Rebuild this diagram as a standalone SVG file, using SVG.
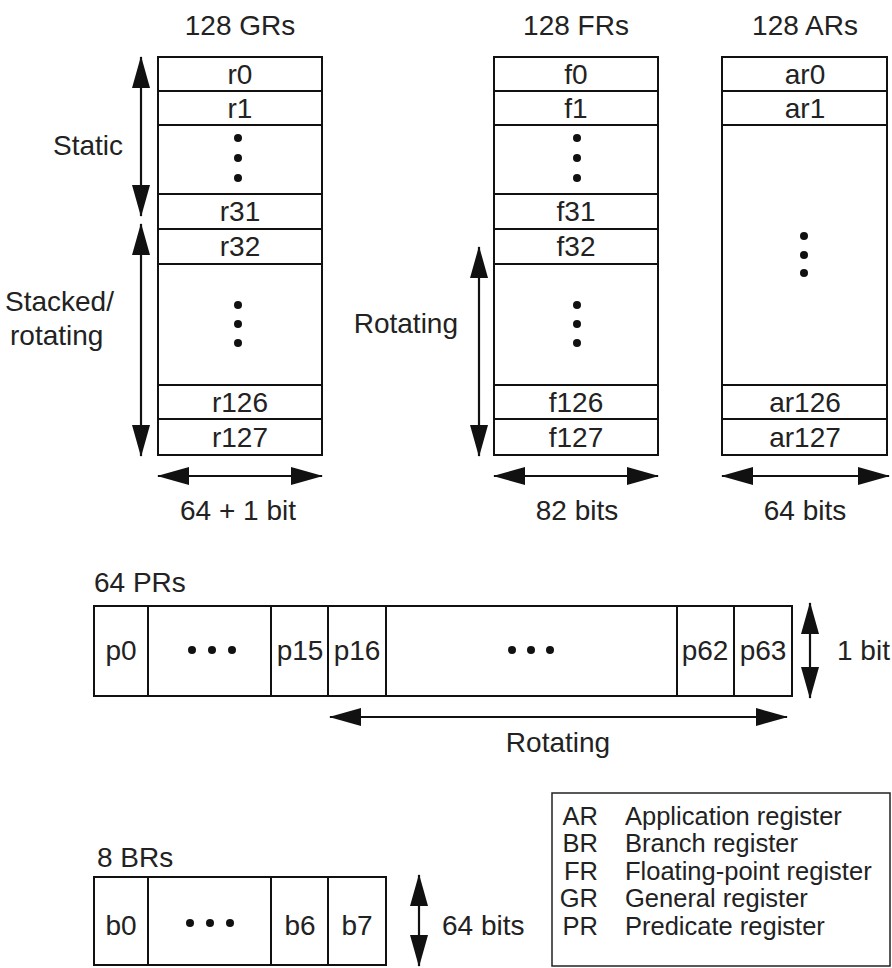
<svg xmlns="http://www.w3.org/2000/svg" width="892" height="968" viewBox="0 0 892 968">
<defs>
<style>
.c{fill:#fff;stroke:#111;stroke-width:2}
.t{font-family:"Liberation Sans",Arial,sans-serif;font-size:28px;fill:#222;text-anchor:middle}
.l{font-family:"Liberation Sans",Arial,sans-serif;font-size:28px;fill:#222}
.g{font-family:"Liberation Sans",Arial,sans-serif;font-size:25.5px;fill:#222}
.a{stroke:#111;stroke-width:2.2;fill:none;marker-start:url(#ah);marker-end:url(#ah)}
.d{fill:#111}
</style>
<marker id="ah" viewBox="0 0 32 20" refX="31" refY="10" markerWidth="32" markerHeight="20" markerUnits="userSpaceOnUse" orient="auto-start-reverse">
<path d="M0,1 L32,10 L0,19 z" fill="#111"/>
</marker>
</defs>
<rect width="892" height="968" fill="#fff"/>

<g id="gr">
<text class="t" x="240" y="35">128 GRs</text>
<rect class="c" x="158" y="57" width="164" height="34"/>
<rect class="c" x="158" y="91" width="164" height="34"/>
<rect class="c" x="158" y="125" width="164" height="69"/>
<rect class="c" x="158" y="194" width="164" height="35"/>
<rect class="c" x="158" y="229" width="164" height="35"/>
<rect class="c" x="158" y="264" width="164" height="121"/>
<rect class="c" x="158" y="385" width="164" height="34"/>
<rect class="c" x="158" y="419" width="164" height="36"/>
<text class="t" x="240" y="84">r0</text>
<text class="t" x="240" y="118">r1</text>
<circle class="d" cx="238" cy="138" r="4"/><circle class="d" cx="238" cy="158" r="4"/><circle class="d" cx="238" cy="178" r="4"/>
<text class="t" x="240" y="221">r31</text>
<text class="t" x="240" y="256">r32</text>
<circle class="d" cx="238" cy="305" r="4"/><circle class="d" cx="238" cy="324" r="4"/><circle class="d" cx="238" cy="343" r="4"/>
<text class="t" x="240" y="412">r126</text>
<text class="t" x="240" y="447">r127</text>
<text class="l" x="53" y="155">Static</text>
<text class="l" x="5" y="311">Stacked/</text>
<text class="l" x="10" y="345">rotating</text>
<text class="t" x="238" y="520">64 + 1 bit</text>
</g>

<g id="fr">
<text class="t" x="576" y="35">128 FRs</text>
<rect class="c" x="494" y="57" width="164" height="34"/>
<rect class="c" x="494" y="91" width="164" height="34"/>
<rect class="c" x="494" y="125" width="164" height="69"/>
<rect class="c" x="494" y="194" width="164" height="35"/>
<rect class="c" x="494" y="229" width="164" height="35"/>
<rect class="c" x="494" y="264" width="164" height="121"/>
<rect class="c" x="494" y="385" width="164" height="34"/>
<rect class="c" x="494" y="419" width="164" height="36"/>
<text class="t" x="576" y="84">f0</text>
<text class="t" x="576" y="118">f1</text>
<circle class="d" cx="577" cy="138" r="4"/><circle class="d" cx="577" cy="158" r="4"/><circle class="d" cx="577" cy="178" r="4"/>
<text class="t" x="576" y="221">f31</text>
<text class="t" x="576" y="256">f32</text>
<circle class="d" cx="577" cy="305" r="4"/><circle class="d" cx="577" cy="324" r="4"/><circle class="d" cx="577" cy="343" r="4"/>
<text class="t" x="576" y="412">f126</text>
<text class="t" x="576" y="447">f127</text>
<text class="l" x="458" y="333" text-anchor="end">Rotating</text>
<text class="t" x="577" y="520">82 bits</text>
</g>

<g id="ar">
<text class="t" x="805" y="35">128 ARs</text>
<rect class="c" x="722" y="57" width="165" height="34"/>
<rect class="c" x="722" y="91" width="165" height="34"/>
<rect class="c" x="722" y="125" width="165" height="260"/>
<rect class="c" x="722" y="385" width="165" height="34"/>
<rect class="c" x="722" y="419" width="165" height="36"/>
<text class="t" x="805" y="84">ar0</text>
<text class="t" x="805" y="118">ar1</text>
<circle class="d" cx="804" cy="236" r="4"/><circle class="d" cx="804" cy="255" r="4"/><circle class="d" cx="804" cy="273" r="4"/>
<text class="t" x="805" y="412">ar126</text>
<text class="t" x="805" y="447">ar127</text>
<text class="t" x="805" y="520">64 bits</text>
</g>

<g id="pr">
<text class="l" x="94" y="592">64 PRs</text>
<rect class="c" x="94" y="606" width="54" height="90"/>
<rect class="c" x="148" y="606" width="123" height="90"/>
<rect class="c" x="271" y="606" width="57" height="90"/>
<rect class="c" x="328" y="606" width="58" height="90"/>
<rect class="c" x="386" y="606" width="291" height="90"/>
<rect class="c" x="677" y="606" width="57" height="90"/>
<rect class="c" x="734" y="606" width="58" height="90"/>
<text class="t" x="121" y="660">p0</text>
<circle class="d" cx="192" cy="650" r="4"/><circle class="d" cx="212" cy="650" r="4"/><circle class="d" cx="232" cy="650" r="4"/>
<text class="t" x="300" y="660">p15</text>
<text class="t" x="357" y="660">p16</text>
<circle class="d" cx="512" cy="650" r="4"/><circle class="d" cx="531" cy="650" r="4"/><circle class="d" cx="550" cy="650" r="4"/>
<text class="t" x="705" y="660">p62</text>
<text class="t" x="763" y="660">p63</text>
<text class="l" x="837" y="660">1 bit</text>
<text class="t" x="558" y="752">Rotating</text>
</g>

<g id="br">
<text class="l" x="97" y="867">8 BRs</text>
<rect class="c" x="94" y="877" width="54" height="88"/>
<rect class="c" x="148" y="877" width="123" height="88"/>
<rect class="c" x="271" y="877" width="57" height="88"/>
<rect class="c" x="328" y="877" width="58" height="88"/>
<text class="t" x="121" y="935">b0</text>
<circle class="d" cx="190" cy="923" r="4"/><circle class="d" cx="210" cy="923" r="4"/><circle class="d" cx="230" cy="923" r="4"/>
<text class="t" x="300" y="935">b6</text>
<text class="t" x="357" y="935">b7</text>
<text class="l" x="442" y="935">64 bits</text>
</g>

<g id="legend">
<rect x="552" y="793" width="338" height="173" fill="#fff" stroke="#222" stroke-width="1.5"/>
<g class="g" text-anchor="end">
<text x="598" y="825">AR</text>
<text x="598" y="852">BR</text>
<text x="598" y="880">FR</text>
<text x="598" y="907">GR</text>
<text x="598" y="935">PR</text>
</g>
<g class="g">
<text x="625" y="825">Application register</text>
<text x="625" y="852">Branch register</text>
<text x="625" y="880">Floating-point register</text>
<text x="625" y="907">General register</text>
<text x="625" y="935">Predicate register</text>
</g>
</g>

<g id="connectors">
<line class="a" x1="141" y1="57" x2="141" y2="216"/>
<line class="a" x1="141" y1="224" x2="141" y2="456"/>
<line class="a" x1="479" y1="247" x2="479" y2="456"/>
<line class="a" x1="158" y1="476" x2="322" y2="476"/>
<line class="a" x1="494" y1="476" x2="658" y2="476"/>
<line class="a" x1="722" y1="476" x2="889" y2="476"/>
<line class="a" x1="330" y1="717" x2="787" y2="717"/>
<line class="a" x1="810" y1="603" x2="810" y2="698"/>
<line class="a" x1="419" y1="875" x2="419" y2="966"/>
</g>
</svg>
